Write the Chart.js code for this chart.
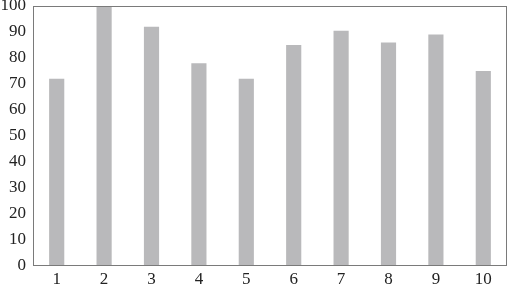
<!DOCTYPE html>
<html>
<head>
<meta charset="utf-8">
<script src="https://cdn.jsdelivr.net/npm/chart.js@4"></script>
<style>
html,body{margin:0;padding:0;background:#fff;}
#wrap{width:510px;height:286px;}
</style>
</head>
<body>
<div id="wrap"><canvas id="c" width="510" height="286"></canvas></div>
<script>
const categories = ["1","2","3","4","5","6","7","8","9","10"];
const values = [72, 100, 92, 78, 72, 85, 90.5, 86, 89, 75];
const yTicks = [0,10,20,30,40,50,60,70,80,90,100];

const frame = {
  id: 'frame',
  afterDatasetsDraw(chart) {
    const a = chart.chartArea, ctx = chart.ctx;
    ctx.save();
    ctx.strokeStyle = '#7a7a7a';
    ctx.lineWidth = 1;
    ctx.strokeRect(Math.round(a.left) + 0.5, Math.round(a.top) + 0.5, Math.round(a.right - a.left) - 1, Math.round(a.bottom - a.top) - 1);
    ctx.restore();
  }
};

new Chart(document.getElementById('c'), {
  type: 'bar',
  data: {
    labels: categories,
    datasets: [{
      data: values,
      backgroundColor: '#b9b9bb',
      borderWidth: 0,
      barPercentage: 0.32,
      categoryPercentage: 1
    }]
  },
  options: {
    responsive: false,
    animation: false,
    devicePixelRatio: 1,
    layout: { padding: { left: 0, right: 3, top: 6, bottom: 0 } },
    plugins: { legend: { display: false }, tooltip: { enabled: false } },
    scales: {
      x: {
        grid: { display: false, drawTicks: false },
        border: { display: false },
        ticks: { color: '#222', font: { family: 'Liberation Serif', size: 17 }, padding: 3, maxRotation: 0 },
        afterFit(s) { s.height = 20; s.paddingLeft = 0; s.paddingRight = 0; }
      },
      y: {
        min: 0, max: 100,
        afterBuildTicks(s) { s.ticks = yTicks.map(v => ({ value: v })); },
        grid: { display: false, drawTicks: false },
        border: { display: false },
        ticks: { color: '#222', font: { family: 'Liberation Serif', size: 17 }, padding: 7 },
        afterFit(s) { s.width = 33; s.paddingTop = 0; s.paddingBottom = 0; }
      }
    }
  },
  plugins: [frame]
});
</script>
</body>
</html>
